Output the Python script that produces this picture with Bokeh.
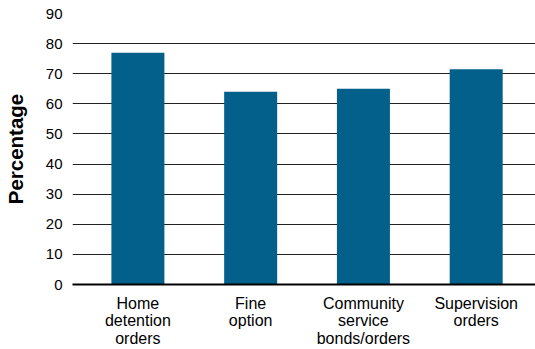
from bokeh.plotting import figure
from bokeh.models import Range1d, FixedTicker
from bokeh.embed import file_html
from bokeh.resources import INLINE

categories = ["Home\ndetention\norders", "Fine\noption", "Community\nservice\nbonds/orders", "Supervision\norders"]
values = [77, 64, 65, 71.5]
y_ticks = [0, 10, 20, 30, 40, 50, 60, 70, 80, 90]

xs = list(range(len(categories)))

p = figure(width=535, height=349, output_backend="svg", toolbar_location=None,
           x_range=Range1d(-0.58, 3.526), y_range=Range1d(0, 90),
           min_border_left=71, min_border_right=0, min_border_top=13, min_border_bottom=64)
p.outline_line_color = None
p.vbar(x=xs, top=values, width=0.47, bottom=0, color="#02608B", line_color=None)

p.xgrid.grid_line_color = None
p.ygrid.ticker = FixedTicker(ticks=y_ticks[1:])
p.ygrid.grid_line_color = "#222222"
p.ygrid.grid_line_width = 1

p.yaxis.ticker = FixedTicker(ticks=y_ticks)
p.yaxis.axis_line_color = None
p.yaxis.major_tick_line_color = None
p.yaxis.minor_tick_line_color = None
p.yaxis.major_tick_out = 0
p.yaxis.minor_tick_out = 0
p.yaxis.major_label_standoff = 10
p.yaxis.major_label_text_font = "Liberation Sans"
p.yaxis.major_label_text_font_size = "15px"
p.yaxis.major_label_text_color = "#000000"
p.yaxis.axis_label = "Percentage"
p.yaxis.axis_label_text_font = "Liberation Sans"
p.yaxis.axis_label_text_font_style = "bold"
p.yaxis.axis_label_text_font_size = "20.5px"
p.yaxis.axis_label_text_color = "#000000"
p.yaxis.axis_label_standoff = 16

p.xaxis.ticker = FixedTicker(ticks=xs)
p.xaxis.major_label_overrides = {i: c for i, c in enumerate(categories)}
p.xaxis.axis_line_color = "#000000"
p.xaxis.axis_line_width = 2
p.xaxis.major_tick_line_color = None
p.xaxis.minor_tick_line_color = None
p.xaxis.major_tick_out = 0
p.xaxis.minor_tick_out = 0
p.xaxis.major_label_standoff = 10
p.xaxis.major_label_text_font = "Liberation Sans"
p.xaxis.major_label_text_font_size = "16px"
p.xaxis.major_label_text_color = "#000000"
p.xaxis.major_label_text_line_height = 1.03

open("out.html", "w").write(file_html(p, INLINE))
